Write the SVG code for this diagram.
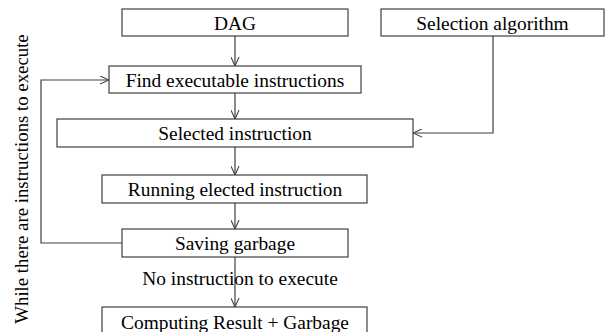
<svg xmlns="http://www.w3.org/2000/svg" width="605" height="332" viewBox="0 0 605 332">
<defs>
<marker id="arr" viewBox="0 0 10 10" refX="10" refY="5" markerWidth="9" markerHeight="9" markerUnits="userSpaceOnUse" orient="auto">
<path d="M0,0.5 L10,5 L0,9.5" fill="none" stroke="#404040" stroke-width="1.2"/>
</marker>
<style>
.box{fill:#fff;stroke:#404040;stroke-width:1.2}
.t{font-family:"Liberation Serif","Times New Roman",serif;font-size:19.4px;fill:#000;text-anchor:middle}
.v{font-size:18.8px}
.c{fill:none;stroke:#404040;stroke-width:1.2;marker-end:url(#arr)}
</style>
</defs>
<rect width="605" height="332" fill="#fff"/>
<g id="connectors">
<path class="c" d="M235,36 V66"/>
<path class="c" d="M235,93 V119"/>
<path class="c" d="M493,36 V133 H413"/>
<path class="c" d="M235,147 V175"/>
<path class="c" d="M235,203 V229"/>
<path class="c" d="M122,243 H41 V80 H109"/>
<path class="c" d="M235,257 V307"/>
</g>
<g id="dag"><rect class="box" x="122" y="9" width="226" height="27"/><text class="t" x="235" y="29.5">DAG</text></g>
<g id="selalg"><rect class="box" x="381" y="9" width="223" height="27"/><text class="t" x="492.5" y="29.5">Selection algorithm</text></g>
<g id="find"><rect class="box" x="109" y="66" width="252" height="27"/><text class="t" x="235" y="86.5">Find executable instructions</text></g>
<g id="selected"><rect class="box" x="57" y="119" width="356" height="28"/><text class="t" x="235" y="140">Selected instruction</text></g>
<g id="running"><rect class="box" x="102" y="175" width="265" height="28"/><text class="t" x="235" y="196">Running elected instruction</text></g>
<g id="saving"><rect class="box" x="122" y="229" width="226" height="28"/><text class="t" x="235" y="250">Saving garbage</text></g>
<g id="computing"><rect class="box" x="102" y="307" width="265" height="30"/><text class="t" x="235" y="329">Computing Result + Garbage</text></g>
<g id="labels">
<text class="t" x="240" y="284.5">No instruction to execute</text>
<text class="t v" transform="translate(28,179) rotate(-90)">While there are instructions to execute</text>
</g>
</svg>
